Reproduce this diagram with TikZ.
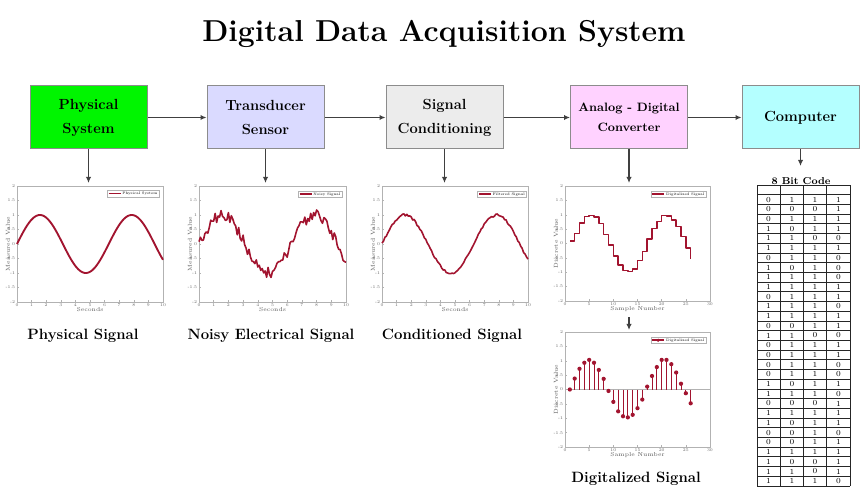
\documentclass[tikz,border=0pt]{standalone}
\usepackage{fontspec}
\usetikzlibrary{arrows.meta}

\definecolor{sigred}{rgb}{0.635,0.078,0.184}
\definecolor{physgreen}{RGB}{0,245,0}
\definecolor{transblue}{RGB}{218,218,255}
\definecolor{condgray}{RGB}{236,236,236}
\definecolor{adcpink}{RGB}{255,210,255}
\definecolor{compcyan}{RGB}{180,255,255}
\definecolor{linkgray}{RGB}{64,64,64}

\tikzset{
  block/.style={draw=gray!90, line width=0.75pt, minimum width=87.75pt,
    minimum height=47.25pt, align=center, font=\bfseries\fontsize{11}{18}\selectfont},
  link/.style={draw=linkgray, line width=1.1pt, -{Latex[length=4.5pt,width=4pt]}},
  caption/.style={font=\bfseries\fontsize{11.2}{13}\selectfont},
  axis/.style={draw=gray!60, line width=0.35pt},
  ticklab/.style={font=\fontsize{3.2}{3.5}\selectfont, text=gray!80!black, inner sep=1.2pt},
  axlab/.style={font=\fontsize{4.3}{5}\selectfont, text=gray!70!black},
  legend/.style={draw=gray!60, fill=white, line width=0.3pt, inner sep=1.2pt,
    font=\fontsize{2.7}{3}\selectfont},
  sig/.style={sigred, line width=1.2pt, line join=round},
  stemdot/.style={circle, fill=sigred, inner sep=0pt, minimum size=3.2pt},
  cell/.style={draw=black!85, line width=0.6pt},
  bit/.style={font=\fontsize{5.8}{6}\selectfont, inner sep=0pt},
}

% frame, ticks and labels of one signal plot (data y from -2 to 2)
\newcommand\plotaxes[5]{%
  \draw[axis] (0,-2) rectangle (#2,2);
  \foreach \yv [count=\k] in {-2,-1.5,-1,-0.5,0,0.5,1,1.5,2}{
    \draw[axis] (0,\yv) -- ++(#2/80,0);
    \node[ticklab, anchor=east] (#1y\k) at (0,\yv) {\yv};
  }
  \foreach \xv [count=\k] in {#3}{
    \draw[axis] (\xv,-2) -- ++(0,0.06);
    \node[ticklab, anchor=north] (#1x\k) at (\xv,-2) {\xv};
  }
  \node[axlab, anchor=north, inner sep=4pt] (#1xl) at (#2/2,-2) {#4};
  \node[axlab, rotate=90, anchor=south, inner sep=5pt] (#1yl) at (0,0) {#5};
}
\newcommand\legline{\textcolor{sigred}{\rule[0.25ex]{9pt}{1.1pt}}}

\begin{document}
\begin{tikzpicture}[x=0.75pt,y=0.75pt]
  \useasboundingbox (0,0) rectangle (860,493);
  \pgfmathsetseed{3}

  \node[font=\bfseries\fontsize{22.7}{26}\selectfont, anchor=base] (title)
    at (444,451) {Digital Data Acquisition System};

  % the chain of blocks
  \node[block, fill=physgreen] (phys) at (88.5,375.5) {Physical\\System};
  \node[block, fill=transblue] (trans) at (265.5,375.5) {Transducer\\Sensor};
  \node[block, fill=condgray] (cond) at (444.5,375.5) {Signal\\Conditioning};
  \node[block, fill=adcpink, font=\bfseries\fontsize{9.1}{15}\selectfont] (adc)
    at (629,375.5) {Analog - Digital\\Converter};
  \node[block, fill=compcyan] (comp) at (800.5,375.5) {Computer};

  \draw[link] (phys) -- (trans);
  \draw[link] (trans) -- (cond);
  \draw[link] (cond) -- (adc);
  \draw[link] (adc) -- (comp);

  \coordinate (p1in) at (88.5,310);
  \coordinate (p2in) at (265.5,310);
  \coordinate (p3in) at (444.5,310);
  \coordinate (p4in) at (629,310);
  \coordinate (p5in) at (629,163);
  \coordinate (tabin) at (800.5,327);
  \draw[link] (phys) -- (p1in);
  \draw[link] (trans) -- (p2in);
  \draw[link] (cond) -- (p3in);
  \draw[link] (adc) -- (p4in);
  \draw[link] (comp) -- (tabin);

  % physical signal
  \begin{scope}[shift={(17,249)}, xscale=14.6, yscale=29]
    \plotaxes{pa}{10}{0,1,...,10}{Seconds}{Measured Value}
    \draw[sig, line width=1.4pt] plot[domain=0:10, samples=150, smooth] (\x,{sin(\x r)});
    \node[legend, anchor=north east] (lega) at (9.73,1.86) {\legline\ Physical System};
  \end{scope}

  % noisy signal
  \begin{scope}[shift={(199,249)}, xscale=14.7, yscale=29]
    \plotaxes{pb}{10}{0,1,...,10}{Seconds}{Measured Value}
    \draw[sig] plot[domain=0:10, samples=101] (\x,{sin(\x r)+0.2*rand});
    \node[legend, anchor=north east] (legb) at (9.73,1.83) {\legline\ Noisy Signal};
  \end{scope}

  % conditioned signal
  \begin{scope}[shift={(382,249)}, xscale=14.6, yscale=29]
    \plotaxes{pc}{10}{0,1,...,10}{Seconds}{Measured Value}
    \draw[sig] plot[domain=0:10, samples=101] (\x,{sin(\x r)+0.04*rand});
    \node[legend, anchor=north east] (legc) at (9.9,1.83) {\legline\ Filtered Signal};
  \end{scope}

  % converter output as stairs
  \begin{scope}[shift={(565,249.5)}, xscale=4.833, yscale=28.75]
    \plotaxes{pd}{30}{0,5,...,30}{Sample Number}{Discrete Value}
    \draw[sig, line width=1.1pt] plot[const plot] coordinates {(1,0.08) (2,0.35)
      (3,0.72) (4,0.93) (5,0.98) (6,0.92) (7,0.7) (8,0.32) (9,-0.06) (10,-0.43)
      (11,-0.74) (12,-0.93) (13,-0.98) (14,-0.88) (15,-0.6) (16,-0.28) (17,0.15)
      (18,0.52) (19,0.76) (20,0.98) (21,0.95) (22,0.81) (23,0.6) (24,0.25)
      (25,-0.15) (26,-0.55)};
    \node[legend, anchor=north east] (legd) at (29.2,1.83) {\legline\ Digitalized Signal};
  \end{scope}
  \draw[link] (pdxl.south -| p5in) -- (p5in);

  % converter output as stems
  \begin{scope}[shift={(565,103.5)}, xscale=4.833, yscale=28.75]
    \plotaxes{pe}{30}{0,5,...,30}{Sample Number}{Discrete Value}
    \draw[axis] (0,0) -- (30,0);
    \foreach \v [count=\n] in {0.0,0.38,0.72,0.93,1.03,0.93,0.68,0.37,-0.05,-0.43,
      -0.76,-0.93,-0.97,-0.88,-0.65,-0.35,0.1,0.47,0.78,1.03,1.03,0.88,0.59,0.2,
      -0.13,-0.48}{
      \draw[sigred, line width=0.75pt] (\n,0) -- (\n,\v);
      \node[stemdot] (st\n) at (\n,\v) {};
    }
    \node[legend, anchor=north east] (lege) at (29.2,1.83) {\legline\ Digitalized Signal};
  \end{scope}
  \node[stemdot, minimum size=2.6pt] (legedot) at ([xshift=5.7pt]lege.west) {};

  \node[caption] (capa) at (83,157) {Physical Signal};
  \node[caption] (capb) at (271,157) {Noisy Electrical Signal};
  \node[caption] (capc) at (452,157) {Conditioned Signal};
  \node[caption] (cape) at (636,14) {Digitalized Signal};

  % 8 bit code table
  \node[font=\bfseries\fontsize{7.5}{9}\selectfont] (tabtitle) at (801,312) {8 Bit Code};
  \foreach \c in {0,...,4}
    \draw[cell] (757+\c*23.25,7) -- (757+\c*23.25,308);
  \foreach \r in {0,...,31}
    \draw[cell] (757,7+\r*9.71) -- (850,7+\r*9.71);
  \foreach \a/\b/\c/\d [count=\r] in {0/1/1/1, 0/0/0/1, 0/1/1/1, 1/0/1/1, 1/1/0/0,
    1/1/1/1, 0/1/1/0, 1/0/1/0, 1/1/1/0, 1/1/1/1, 0/1/1/1, 1/1/1/0, 1/1/1/1,
    0/0/1/1, 1/1/0/0, 0/1/1/1, 0/1/1/1, 0/1/1/0, 0/1/1/0, 1/0/1/1, 1/1/1/0,
    0/0/0/1, 1/1/1/1, 1/0/1/1, 0/0/1/0, 0/0/1/1, 1/1/1/1, 1/0/0/1, 1/1/0/1,
    1/1/1/0}{
    \node[bit] (b\r a) at (768.6,308-9.71*\r-4.85) {\a};
    \node[bit] (b\r b) at (791.9,308-9.71*\r-4.85) {\b};
    \node[bit] (b\r c) at (815.1,308-9.71*\r-4.85) {\c};
    \node[bit] (b\r d) at (838.4,308-9.71*\r-4.85) {\d};
  }
\end{tikzpicture}
\end{document}
